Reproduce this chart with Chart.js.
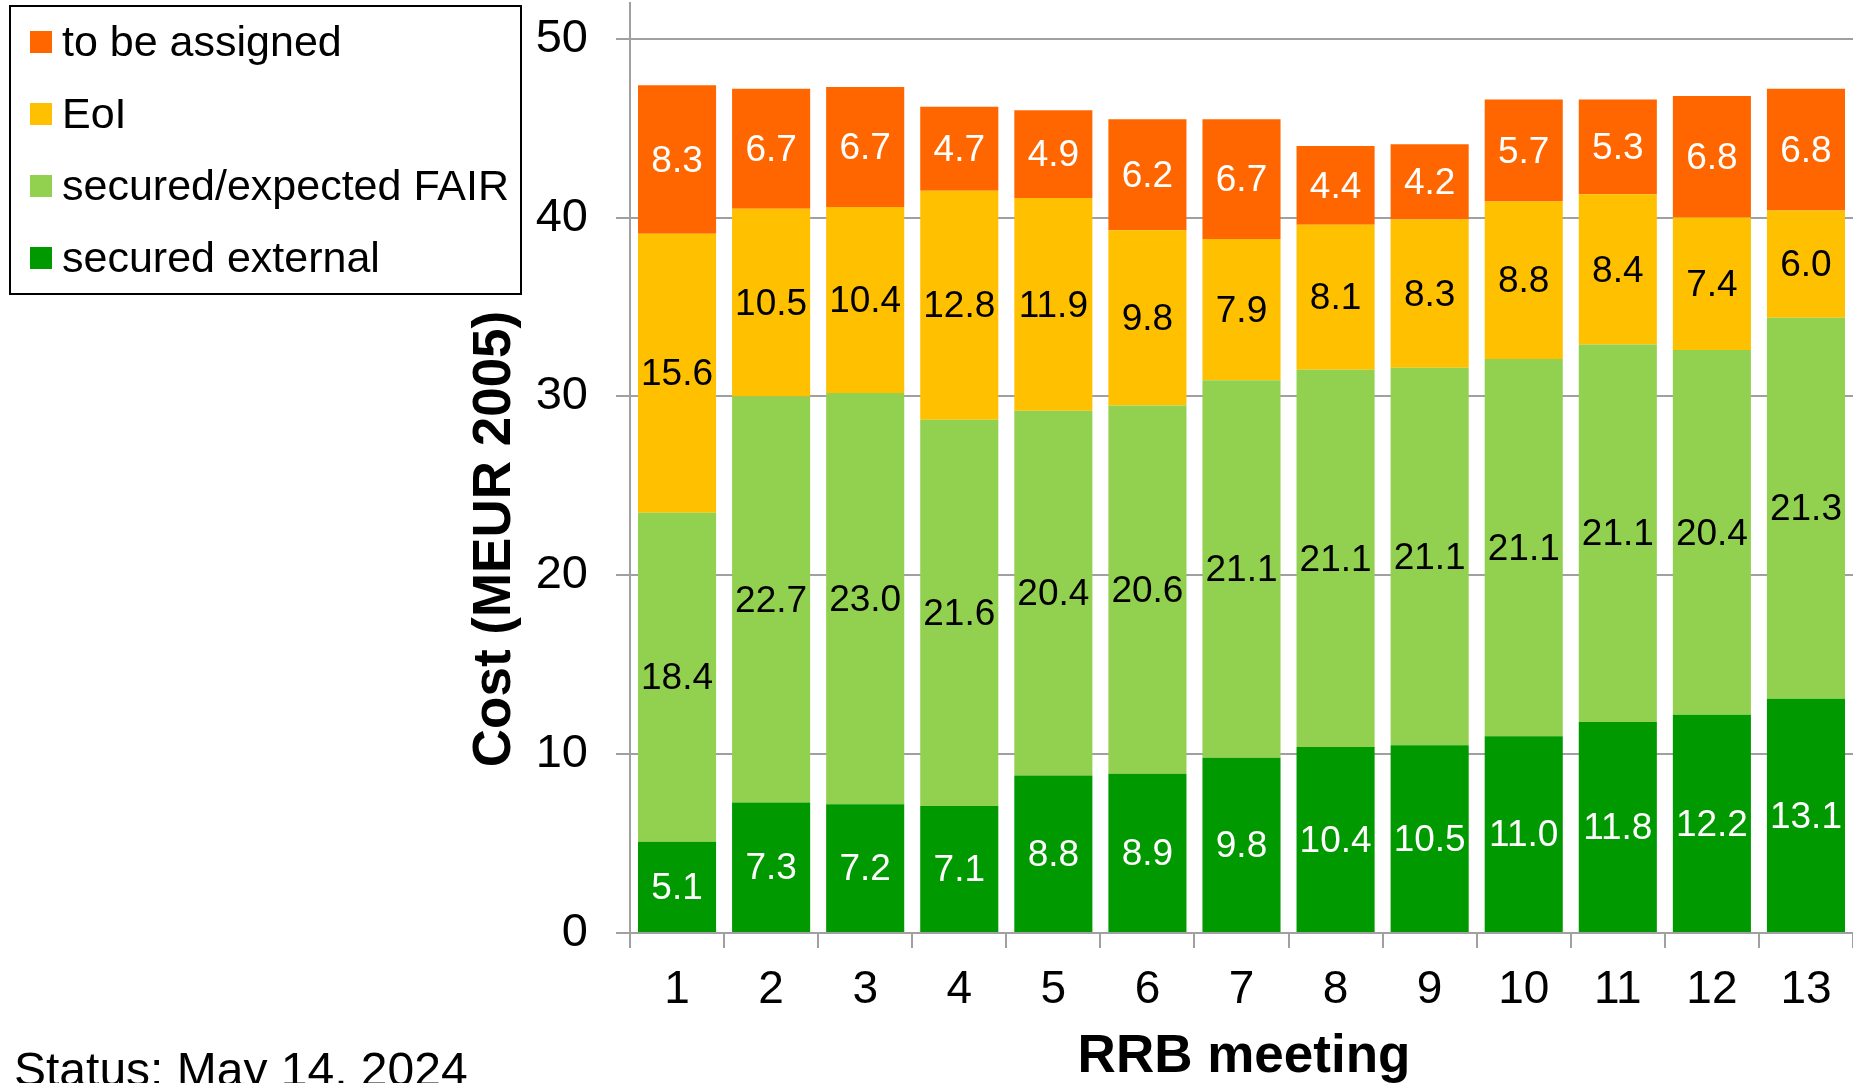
<!DOCTYPE html>
<html>
<head>
<meta charset="utf-8">
<script src="https://cdn.jsdelivr.net/npm/chart.js@4"></script>
<style>
  html, body { margin: 0; padding: 0; background: #ffffff; overflow: hidden; }
  canvas { display: block; }
</style>
</head>
<body>
<canvas id="costChart" width="1853" height="1083"></canvas>
<script>
// RRB meeting numbers
const meetings = ['1', '2', '3', '4', '5', '6', '7', '8', '9', '10', '11', '12', '13'];

// Cost components per meeting, MEUR (2005)
const securedExternal = [5.1, 7.3, 7.2, 7.1, 8.8, 8.9, 9.8, 10.4, 10.5, 11.0, 11.8, 12.2, 13.1];
const securedFair     = [18.4, 22.7, 23.0, 21.6, 20.4, 20.6, 21.1, 21.1, 21.1, 21.1, 21.1, 20.4, 21.3];
const eoi             = [15.6, 10.5, 10.4, 12.8, 11.9, 9.8, 7.9, 8.1, 8.3, 8.8, 8.4, 7.4, 6.0];
const toBeAssigned    = [8.3, 6.7, 6.7, 4.7, 4.9, 6.2, 6.7, 4.4, 4.2, 5.7, 5.3, 6.8, 6.8];

// Y axis tick values
const yTicks = [0, 10, 20, 30, 40, 50];

const FONT = '"Liberation Sans", Arial, Helvetica, sans-serif';
const GRID = '#a0a0a0';

// Value labels centred in each stacked segment
const segmentLabels = {
  id: 'segmentLabels',
  afterDatasetsDraw(chart) {
    const ctx = chart.ctx;
    ctx.save();
    ctx.font = '37px ' + FONT;
    ctx.textAlign = 'center';
    ctx.textBaseline = 'middle';
    chart.data.datasets.forEach((ds, i) => {
      const meta = chart.getDatasetMeta(i);
      meta.data.forEach((bar, j) => {
        const p = bar.getProps(['x', 'y', 'base'], true);
        ctx.fillStyle = ds.labelColor;
        ctx.fillText(ds.data[j].toFixed(1), p.x, (p.y + p.base) / 2 + 2);
      });
    });
    ctx.restore();
  }
};

// Boxed legend in the top-left corner, topmost series first
const boxedLegend = {
  id: 'boxedLegend',
  afterDraw(chart) {
    const ctx = chart.ctx;
    ctx.save();
    ctx.fillStyle = '#ffffff';
    ctx.fillRect(10, 6, 511, 288);
    ctx.strokeStyle = '#000000';
    ctx.lineWidth = 2;
    ctx.strokeRect(10, 6, 511, 288);
    ctx.font = '43px ' + FONT;
    ctx.textAlign = 'left';
    ctx.textBaseline = 'alphabetic';
    const order = chart.data.datasets.slice().reverse();
    order.forEach((ds, k) => {
      const cy = 42 + k * 72;
      ctx.fillStyle = ds.backgroundColor;
      ctx.fillRect(30, cy - 11, 22, 22);
      ctx.fillStyle = '#000000';
      ctx.fillText(ds.label, 62, cy + 14);
    });
    ctx.restore();
  }
};

// Axis titles and status note
const chartTexts = {
  id: 'chartTexts',
  afterDraw(chart) {
    const ctx = chart.ctx;
    ctx.save();
    ctx.fillStyle = '#000000';
    ctx.font = 'bold 53px ' + FONT;
    ctx.textAlign = 'center';
    ctx.textBaseline = 'alphabetic';
    ctx.fillText('RRB meeting', 1244, 1072);

    ctx.save();
    ctx.translate(510, 539);
    ctx.rotate(-Math.PI / 2);
    ctx.fillText('Cost (MEUR 2005)', 0, 0);
    ctx.restore();

    ctx.font = '48px ' + FONT;
    ctx.textAlign = 'left';
    ctx.fillText('Status: May 14, 2024', 14, 1086);
    ctx.restore();
  }
};

new Chart(document.getElementById('costChart'), {
  type: 'bar',
  data: {
    labels: meetings,
    datasets: [
      { label: 'secured external', data: securedExternal, backgroundColor: '#009900', labelColor: '#ffffff' },
      { label: 'secured/expected FAIR', data: securedFair, backgroundColor: '#92d050', labelColor: '#000000' },
      { label: 'EoI', data: eoi, backgroundColor: '#ffc000', labelColor: '#000000' },
      { label: 'to be assigned', data: toBeAssigned, backgroundColor: '#ff6600', labelColor: '#ffffff' }
    ]
  },
  options: {
    responsive: false,
    devicePixelRatio: 1,
    animation: false,
    layout: { padding: { top: 3, right: 0, left: 0, bottom: 0 } },
    datasets: { bar: { barPercentage: 0.83, categoryPercentage: 1.0, borderWidth: 0 } },
    plugins: { legend: { display: false }, tooltip: { enabled: false } },
    scales: {
      x: {
        stacked: true,
        afterFit(scale) {
          scale.height = 150;
          scale.paddingLeft = 0;
          scale.paddingRight = 0;
        },
        grid: { drawOnChartArea: false, drawTicks: true, tickLength: 15, color: GRID, lineWidth: 2, offset: true },
        border: { color: GRID, width: 2 },
        ticks: { color: '#000000', font: { family: FONT, size: 46 }, padding: 15, maxRotation: 0 }
      },
      y: {
        stacked: true,
        min: 0,
        max: 52,
        afterFit(scale) {
          scale.width = 630;
          scale.paddingTop = 0;
          scale.paddingBottom = 0;
        },
        afterBuildTicks(scale) {
          scale.ticks = yTicks.map(v => ({ value: v }));
        },
        grid: { color: GRID, lineWidth: 2, drawTicks: true, tickLength: 14 },
        border: { color: GRID, width: 2 },
        ticks: { color: '#000000', font: { family: FONT, size: 47 }, padding: 28 }
      }
    }
  },
  plugins: [segmentLabels, boxedLegend, chartTexts]
});
</script>
</body>
</html>
